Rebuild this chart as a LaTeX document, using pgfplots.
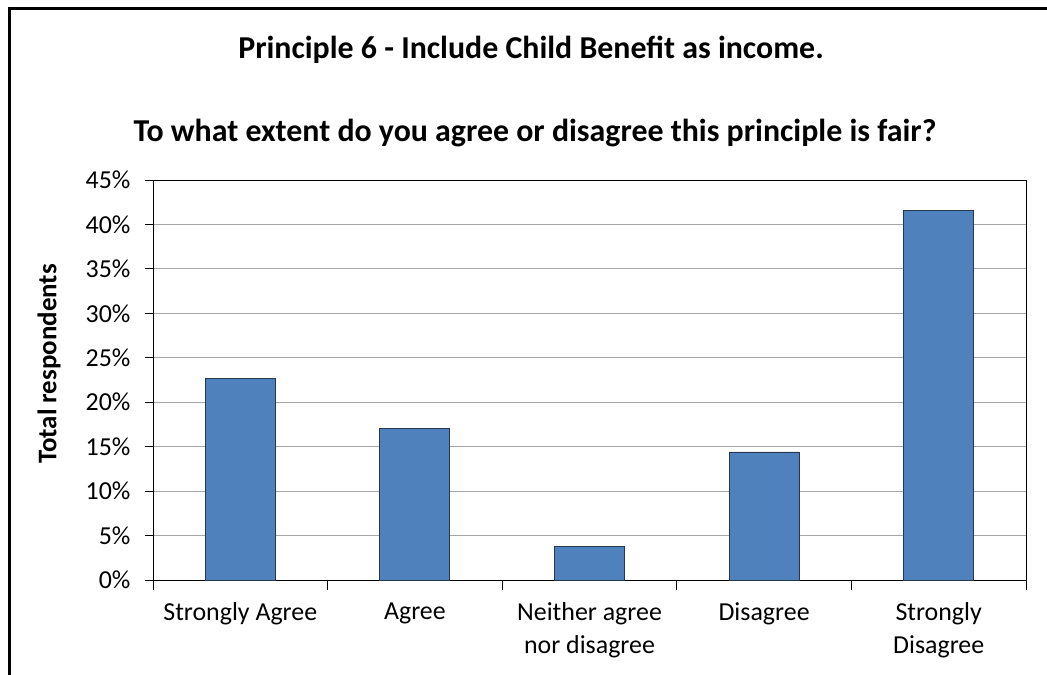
\documentclass[border=0pt]{standalone}
\usepackage{pgfplots}
\pgfplotsset{compat=1.18}
\usepackage{fontspec}
\setmainfont{Carlito}

\definecolor{barblue}{RGB}{79,129,189}
\definecolor{baredge}{RGB}{40,55,80}

\begin{document}
\begin{tikzpicture}
\useasboundingbox (0bp,0bp) rectangle (1047bp,675bp);
% outer chart frame (only left and top edges visible)
\draw[line width=3bp] (9bp,0bp) -- (9bp,666bp) -- (1047bp,666bp);

\node[font=\bfseries\fontsize{32}{36}\selectfont] at (531bp,625bp) {Principle 6 - Include Child Benefit as income.};
\node[font=\bfseries\fontsize{32}{36}\selectfont] at (535bp,542bp) {To what extent do you agree or disagree this principle is fair?};
\node[rotate=90, font=\bfseries\fontsize{27}{30}\selectfont] at (49bp,311bp) {Total respondents};

\begin{axis}[
    at={(153bp,95bp)}, anchor=south west,
    scale only axis,
    width=873bp, height=400bp,
    xmin=-0.5, xmax=4.5,
    ymin=0, ymax=45,
    ytick={0,5,...,45},
    yticklabel={\pgfmathprintnumber{\tick}\%},
    /pgf/number format/assume math mode=true,
    ymajorgrids,
    major grid style={gray!70, line width=0.8pt},
    axis line style={black, line width=0.8pt},
    tick pos=left,
    ytick style={black, line width=0.8pt},
    ytick align=outside,
    major tick length=8bp,
    xtick={0,1,2,3,4},
    xticklabels={Strongly Agree, Agree, {Neither agree\\nor disagree}, Disagree, {Strongly\\Disagree}},
    xtick style={draw=none},
    extra x ticks={-0.5,0.5,1.5,2.5,3.5,4.5},
    extra x tick labels={},
    extra x tick style={xtick style={draw=black, line width=0.8pt}, tick align=outside, major tick length=10bp, grid=none},
    xticklabel style={align=center, font=\fontsize{26}{33}\selectfont, yshift=-19bp},
    yticklabel style={font=\fontsize{26}{30}\selectfont, xshift=-11bp},
    clip=false,
]
\addplot[ybar, bar width=70bp, fill=barblue, draw=baredge, line width=1pt] coordinates {
    (0,22.7)
    (1,17.0)
    (2,3.8)
    (3,14.4)
    (4,41.6)
};
\end{axis}
\end{tikzpicture}
\end{document}
